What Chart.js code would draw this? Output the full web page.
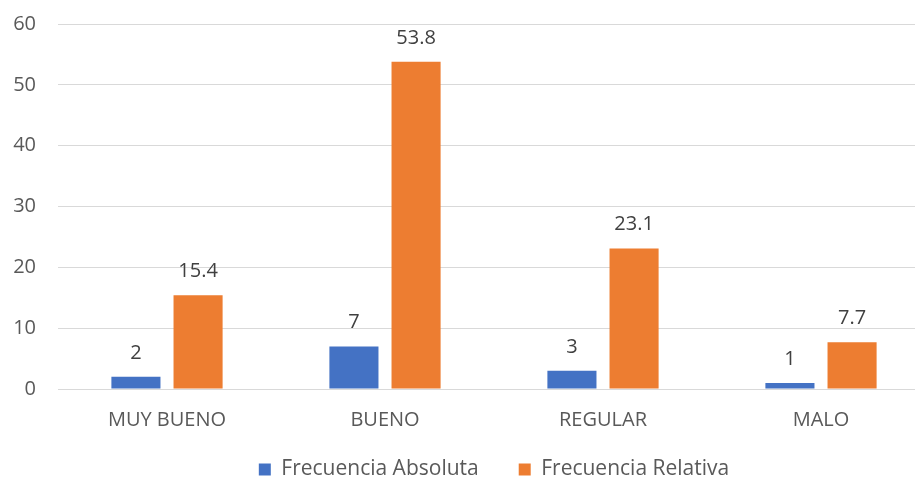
<!DOCTYPE html>
<html>
<head>
<meta charset="utf-8">
<script src="https://cdn.jsdelivr.net/npm/chart.js@4/dist/chart.umd.min.js"></script>
<style>
html,body{margin:0;padding:0;background:#fff;overflow:hidden;}
#wrap{width:915px;height:480px;position:relative;overflow:hidden;}
</style>
</head>
<body>
<div id="wrap"><canvas id="c" width="930" height="490"></canvas></div>
<script>
const categories = ["MUY BUENO", "BUENO", "REGULAR", "MALO"];
const absoluta = [2, 7, 3, 1];
const relativa = [15.4, 53.8, 23.1, 7.7];
const yTicks = [0, 10, 20, 30, 40, 50, 60];

const FONT = "'Open Sans', 'Noto Sans', sans-serif";

const labelPlugin = {
  id: 'valueLabels',
  afterDatasetsDraw(chart) {
    const ctx = chart.ctx;
    ctx.save();
    ctx.font = "20px " + FONT;
    ctx.fillStyle = "#404040";
    ctx.textAlign = "center";
    ctx.textBaseline = "alphabetic";
    chart.data.datasets.forEach((ds, i) => {
      const meta = chart.getDatasetMeta(i);
      meta.data.forEach((bar, j) => {
        ctx.fillText(String(ds.data[j]), bar.x, bar.y - 18);
      });
    });
    ctx.restore();
  }
};

new Chart(document.getElementById('c'), {
  type: 'bar',
  data: {
    labels: categories,
    datasets: [
      { label: 'Frecuencia Absoluta', data: absoluta, backgroundColor: '#4472c4', categoryPercentage: 0.57, barPercentage: 0.79 },
      { label: 'Frecuencia Relativa', data: relativa, backgroundColor: '#ed7d31', categoryPercentage: 0.57, barPercentage: 0.79 }
    ]
  },
  options: {
    responsive: false,
    animation: false,
    layout: { padding: { top: 24, right: 0, left: 0, bottom: 0 } },
    plugins: {
      legend: {
        position: 'bottom',
        fullSize: false,
        maxHeight: 75,
        labels: { boxWidth: 12, boxHeight: 12, color: '#595959', font: { size: 21, family: FONT }, padding: 40 }
      },
      tooltip: { enabled: false }
    },
    scales: {
      x: {
        grid: { display: false, drawTicks: false },
        border: { display: true, color: '#d9d9d9' },
        afterFit(axis) { axis.height = 30; axis._computeLabelArea = () => undefined; },
        ticks: { color: '#595959', font: { size: 20, family: FONT }, padding: 19 }
      },
      y: {
        min: 0, max: 60,
        afterBuildTicks(axis) { axis.ticks = yTicks.map(v => ({ value: v })); },
        afterFit(axis) { axis.width = 58; axis.paddingTop = 0; axis.paddingBottom = 0; },
        grid: { color: '#d9d9d9', drawTicks: false },
        border: { display: false },
        ticks: { color: '#595959', font: { size: 20, family: FONT }, padding: 22 }
      }
    }
  },
  plugins: [labelPlugin]
});
</script>
</body>
</html>
